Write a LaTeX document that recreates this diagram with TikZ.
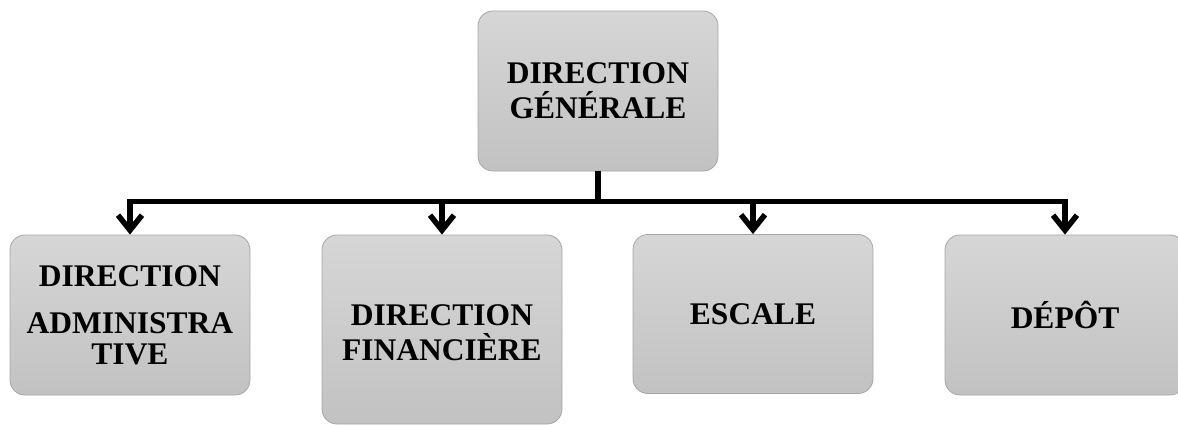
\documentclass[tikz,border=0pt]{standalone}
\usepackage{fontspec}
\setmainfont{Liberation Serif}
\usetikzlibrary{arrows.meta}
\begin{document}
\begin{tikzpicture}[x=1pt,y=-1pt,
  unitbox/.style={rounded corners=15pt, draw=black!35, line width=0.8pt,
    top color=black!16, bottom color=black!24,
    minimum width=240pt, inner sep=0pt, align=center,
    font=\fontsize{31.5}{35}\selectfont\bfseries},
  boxtext/.style={font=\fontsize{31.5}{35}\selectfont\bfseries, align=center, inner sep=0pt},
  link/.style={line width=5.5pt, line join=miter},
  linkarrow/.style={link, -{Straight Barb[length=15pt,width=24pt]}}]
  \useasboundingbox (0,0) rectangle (1178,425);

  % head office
  \node[unitbox, minimum height=160pt] (dg) at (598,91) {DIRECTION\\GÉNÉRALE};

  % departments
  \node[unitbox, minimum height=160pt] (adm) at (130,315) {};
  \node[boxtext] (admtext) at (adm.center) {DIRECTION\\[12pt]ADMINISTRA\\[-4pt]TIVE};
  \node[unitbox, minimum height=189pt] (fin) at (442,329.5) {};
  \node[boxtext] (fintext) at (442,333) {DIRECTION\\FINANCIÈRE};
  \node[unitbox, minimum height=159pt] (esc) at (753,314) {ESCALE};
  \node[unitbox, minimum height=160pt] (dep) at (1065,315) {DÉPÔT};

  % connectors
  \coordinate (bus) at (598,201.5);
  \draw[link] (dg.south) -- (bus);
  \draw[linkarrow] (bus) -| (adm.north);
  \draw[linkarrow] (bus) -| (fin.north);
  \draw[linkarrow] (bus) -| (esc.north);
  \draw[linkarrow] (bus) -| (dep.north);
\end{tikzpicture}
\end{document}
